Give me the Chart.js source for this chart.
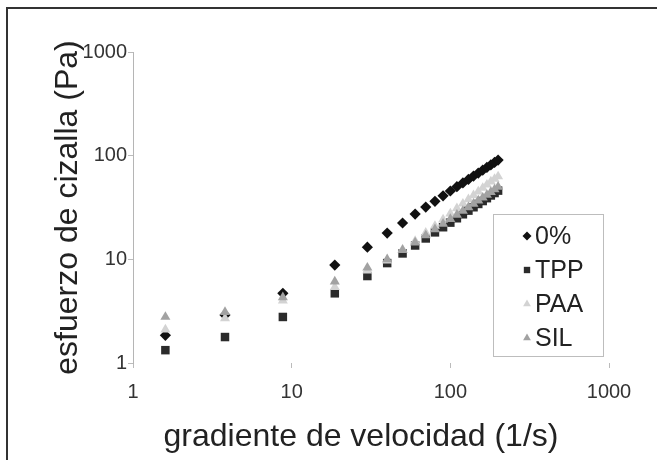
<!DOCTYPE html>
<html>
<head>
<meta charset="utf-8">
<script src="https://cdn.jsdelivr.net/npm/chart.js@4/dist/chart.umd.min.js"></script>
<style>
  html, body { margin: 0; padding: 0; background: #fff; }
  canvas { display: block; }
</style>
</head>
<body>
<canvas id="c" width="657" height="460"></canvas>
<script>
// ---- data ----
const seriesLabels = ["0%", "TPP", "PAA", "SIL"];
const shearRate = [1.6, 3.8, 8.8, 18.7, 30, 40, 50, 60, 70, 80, 90, 100, 110, 120, 130, 140, 150, 160, 170, 180, 190, 200];
const stress0 =   [1.85, 2.9, 4.7, 8.8, 13.1, 17.9, 22.4, 27.3, 31.9, 36.3, 41.0, 45.6, 50.2, 54.6, 59.0, 63.5, 68.0, 72.4, 77.0, 81.5, 86.0, 90.7];
const stressTPP = [1.33, 1.78, 2.78, 4.7, 6.9, 9.2, 11.4, 13.6, 15.9, 18.2, 20.4, 22.6, 24.9, 27.2, 29.5, 31.8, 34.2, 36.5, 38.9, 41.3, 43.6, 46.0];
const stressPAA = [2.1, 2.7, 4.0, 5.4, 7.8, 9.7, 12.4, 15.0, 18.0, 21.0, 24.2, 27.6, 31.0, 34.4, 37.9, 41.5, 45.1, 48.8, 52.5, 56.2, 59.6, 63.0];
const stressSIL = [2.78, 3.1, 4.3, 6.1, 8.3, 10.0, 12.3, 14.5, 17.0, 19.5, 22.0, 24.4, 26.9, 29.3, 31.8, 34.3, 36.8, 39.3, 41.8, 44.5, 47.2, 50.0];
const xTickValues = [1, 10, 100, 1000];
const yTickValues = [1, 10, 100, 1000];
const xTitle = "gradiente de velocidad (1/s)";
const yTitle = "esfuerzo de cizalla (Pa)";

const toPoints = arr => shearRate.map((x, i) => ({ x: x, y: arr[i] }));

const FONT = "'Liberation Sans', Arial, sans-serif";

function mark(ctx, style, x, y, r, color) {
  ctx.save();
  ctx.fillStyle = color;
  ctx.beginPath();
  if (style === 'rectRot') {
    ctx.moveTo(x, y - r); ctx.lineTo(x + r, y); ctx.lineTo(x, y + r); ctx.lineTo(x - r, y);
  } else if (style === 'rect') {
    const s = r * Math.SQRT1_2;
    ctx.rect(x - s, y - s, 2 * s, 2 * s);
  } else {
    ctx.moveTo(x, y - r);
    ctx.lineTo(x + r * 0.866, y + r * 0.5);
    ctx.lineTo(x - r * 0.866, y + r * 0.5);
  }
  ctx.closePath();
  ctx.fill();
  ctx.restore();
}

const framePlugin = {
  id: 'frame',
  beforeDraw(chart) {
    const ctx = chart.ctx;
    ctx.save();
    ctx.fillStyle = '#fff';
    ctx.fillRect(0, 0, chart.width, chart.height);
    ctx.strokeStyle = '#333';
    ctx.lineWidth = 2;
    ctx.strokeRect(7, 8, 800, 600);
    ctx.restore();
  }
};

// x-axis title, drawn slightly left of the plot centre as in the reference
const xTitlePlugin = {
  id: 'xTitle',
  afterDraw(chart) {
    const ctx = chart.ctx;
    const xs = chart.scales.x;
    ctx.save();
    ctx.font = "32px " + FONT;
    ctx.fillStyle = '#222';
    ctx.textAlign = 'center';
    ctx.textBaseline = 'middle';
    ctx.fillText(xTitle, (xs.left + xs.right) / 2 - 10, xs.bottom - 23);
    ctx.restore();
  }
};

const legendPlugin = {
  id: 'boxLegend',
  afterDraw(chart) {
    const ctx = chart.ctx;
    const x0 = 493, y0 = 214, w = 110, h = 142;
    ctx.save();
    ctx.fillStyle = '#fff';
    ctx.fillRect(x0, y0, w, h);
    ctx.strokeStyle = '#bdbdbd';
    ctx.lineWidth = 1;
    ctx.strokeRect(x0 + 0.5, y0 + 0.5, w, h);
    ctx.font = "25px " + FONT;
    ctx.textBaseline = 'middle';
    ctx.textAlign = 'left';
    chart.data.datasets.forEach((ds, i) => {
      const cy = 236 + i * 34;
      mark(ctx, ds.pointStyle, 527, cy, 4.5, ds.backgroundColor);
      ctx.fillStyle = '#222';
      ctx.fillText(ds.label, 535, cy + 1);
    });
    ctx.restore();
  }
};

const styles = [
  { c: '#111111', s: 'rectRot', r: 5.6, o: 3 },
  { c: '#2b2b2b', s: 'rect', r: 6, o: 2 },
  { c: '#d3d3d3', s: 'triangle', r: 5.8, o: 1 },
  { c: '#a2a2a2', s: 'triangle', r: 5.8, o: 0 }
];
const seriesData = [stress0, stressTPP, stressPAA, stressSIL];

new Chart(document.getElementById('c'), {
  type: 'scatter',
  data: {
    datasets: seriesData.map((arr, i) => ({
      label: seriesLabels[i],
      data: toPoints(arr),
      backgroundColor: styles[i].c,
      borderColor: styles[i].c,
      pointStyle: styles[i].s,
      pointRadius: styles[i].r,
      pointHoverRadius: styles[i].r,
      pointBorderWidth: 0,
      order: styles[i].o
    }))
  },
  options: {
    responsive: false,
    animation: false,
    devicePixelRatio: 1,
    layout: { padding: { left: 0, top: 52, right: 48, bottom: 0 } },
    plugins: { legend: { display: false }, tooltip: { enabled: false } },
    scales: {
      x: {
        type: 'logarithmic',
        position: 'bottom',
        min: 1, max: 1000,
        afterBuildTicks: s => { s.ticks = xTickValues.map(v => ({ value: v })); },
        afterFit: s => { s.height = 97; },
        border: { display: false },
        grid: { drawOnChartArea: false, drawTicks: true, tickLength: 5, color: '#bbbbbb' },
        ticks: {
          font: { family: FONT, size: 20 }, color: '#333', padding: 12,
          maxRotation: 0, autoSkip: false,
          callback: v => String(v)
        },
        title: { display: false }
      },
      y: {
        type: 'logarithmic',
        position: 'left',
        min: 1, max: 1000,
        afterBuildTicks: s => { s.ticks = yTickValues.map(v => ({ value: v })); },
        afterFit: s => { s.width = 133; },
        border: { display: true, color: '#b5b5b5', width: 1 },
        grid: { drawOnChartArea: false, drawTicks: true, tickLength: 5, color: '#bbbbbb' },
        ticks: {
          font: { family: FONT, size: 20 }, color: '#333', padding: 1,
          autoSkip: false,
          callback: v => String(v)
        },
        title: {
          display: true, text: yTitle, color: '#222',
          font: { family: FONT, size: 32 },
          padding: { top: 49, bottom: 0 }
        }
      }
    }
  },
  plugins: [framePlugin, xTitlePlugin, legendPlugin]
});
</script>
</body>
</html>
